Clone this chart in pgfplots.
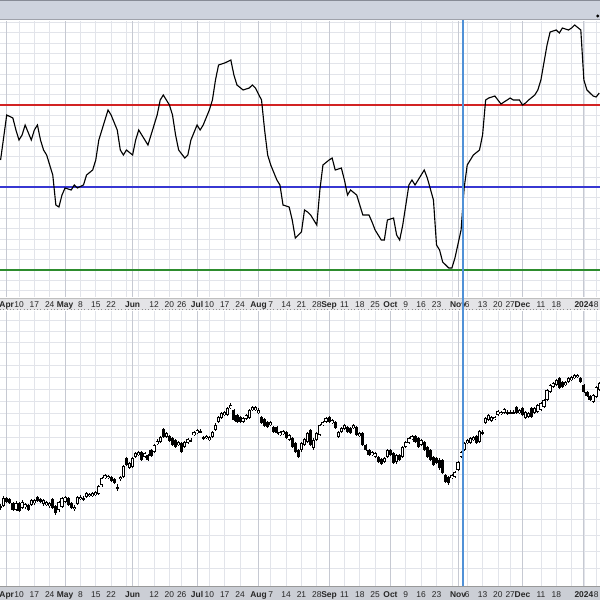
\documentclass[border=0pt]{standalone}
\usepackage{pgfplots}
\usepackage{pgfplotstable}
\pgfplotsset{compat=1.18}
\usepackage{fontspec}
\setmainfont{Liberation Sans}

\definecolor{hdr}{RGB}{206,211,222}
\definecolor{hdrline}{RGB}{135,139,150}
\definecolor{gridc}{RGB}{226,228,234}
\definecolor{gridm}{RGB}{198,201,210}
\definecolor{barbg}{RGB}{228,228,231}
\definecolor{botbar}{RGB}{203,206,213}
\definecolor{vline}{RGB}{80,145,215}

% oscillator, x = trading day (0 = Apr 10 2023), value in panel rows
\pgfplotstableread{
i v
-6 160
-4 115
-2 118
-1 130
0 140
1 135
2 125
4 140
5 130
6 125
7 140
8 150
9 155
11 175
12 205
13 207
14 195
15 188
17 190
18 185
19 188
21 185
22 175
24 170
25 160
26 140
28 120
29 110
30 115
32 130
33 150
34 155
35 150
37 155
38 140
39 130
41 140
42 145
43 135
45 115
46 100
47 95
49 105
50 115
51 135
52 150
54 158
55 155
56 140
58 125
59 130
60 125
62 110
63 100
64 80
65 65
67 63
69 60
70 75
71 85
73 90
75 88
76 85
77 88
79 100
80 130
81 155
82 165
84 180
85 185
86 205
88 207
89 220
90 238
92 232
93 210
94 212
95 215
97 225
98 190
99 165
101 160
102 158
103 170
105 168
106 180
107 195
108 190
110 195
111 205
112 215
114 215
115 222
116 230
118 240
119 240
120 220
122 218
123 235
124 240
125 225
127 185
128 180
129 185
131 175
132 170
133 178
135 200
136 245
137 250
138 262
140 268
141 268
142 258
144 230
145 188
146 165
147 160
148 155
150 150
151 135
152 100
153 98
155 96
156 100
157 104
159 100
160 98
161 100
163 100
164 105
165 103
166 100
168 95
169 90
170 80
172 45
173 32
175 30
176 33
177 28
179 30
180 28
181 25
183 30
184 80
185 90
187 96
188 97
189 93
}\osc

% candles: t = body top, b = body bottom, h = high, l = low (panel rows)
\pgfplotstableread{
i t b h l
-6 506 507 504 510
-5 498 506 496 507
-1 503 510 501 511
1 502 508 500 509
2 504 507 503 509
4 500 505 499 506
5 500 503 499 505
8 500 504 499 506
9 502 505 501 506
10 503 506 502 508
13 502 510 501 512
14 498 507 497 508
15 497 502 496 503
18 507 509 505 511
19 497 504 496 505
20 497 499 495 500
21 498 499 496 501
22 493 497 492 498
23 494 496 493 497
24 493 496 492 497
25 492 495 491 496
26 486 494 485 495
27 478 485 477 487
28 475 478 474 479
29 476 478 475 479
32 487 488 484 491
33 477 479 476 481
34 466 477 465 478
36 463 468 462 469
37 458 467 457 468
38 453 457 452 458
39 452 455 451 456
41 453 457 452 458
44 445 452 444 453
45 441 444 439 445
46 437 442 436 443
48 433 437 432 438
52 442 445 441 446
54 442 447 441 448
55 439 443 438 444
56 440 441 438 442
57 432 435 431 436
58 430 433 429 434
59 431 432 429 433
60 437 438 436 440
61 436 438 435 439
62 437 440 436 441
63 432 437 431 438
64 425 430 423 431
65 417 422 416 423
66 413 418 412 419
67 412 415 411 416
68 408 415 407 416
69 405 408 403 409
73 418 422 417 423
74 415 419 414 420
75 410 418 409 419
76 407 410 406 411
77 407 410 406 411
78 410 413 408 414
82 422 425 421 426
85 432 435 431 436
86 431 434 430 435
88 435 440 434 441
92 443 450 442 452
93 439 445 438 446
94 433 442 432 443
96 440 448 438 450
97 433 440 432 441
98 425 435 424 436
99 422 425 421 426
100 418 422 417 423
102 420 423 419 424
104 432 437 431 438
105 428 432 427 433
106 425 429 424 430
109 425 428 424 429
111 433 436 432 437
115 452 455 451 456
116 453 457 452 458
119 458 462 457 463
120 450 457 449 458
123 455 462 454 464
125 447 457 446 458
126 442 447 441 448
127 438 443 437 444
128 436 439 435 440
131 440 445 439 446
141 475 478 474 479
142 472 477 471 478
143 462 470 461 471
144 452 457 451 458
145 443 450 442 451
146 440 443 439 444
147 438 443 437 444
148 437 440 436 441
150 431 442 430 443
151 432 433 430 435
152 418 423 417 424
153 415 420 414 421
154 417 421 416 422
155 417 419 416 420
156 411 415 410 416
157 412 414 411 415
158 409 413 408 414
159 412 413 410 415
160 412 413 410 414
161 412 413 410 414
163 410 413 409 414
165 412 418 411 419
166 413 417 412 418
168 408 413 407 414
169 405 412 404 413
170 403 410 402 411
171 400 407 399 408
172 390 400 389 401
173 385 392 384 393
174 383 387 382 388
175 380 385 379 386
178 382 385 381 386
179 378 382 377 383
180 377 380 376 381
181 375 378 374 379
182 375 377 374 378
187 395 402 394 403
188 387 397 386 398
189 383 390 382 391
}\up

\pgfplotstableread{
i t b h l
-4 498 502 497 503
-3 499 503 498 504
-2 503 510 502 511
0 503 511 502 512
3 505 510 504 511
6 497 501 496 502
7 499 502 498 503
11 499 508 498 509
12 506 513 505 515
16 498 505 497 506
17 503 508 502 509
30 477 481 476 482
31 479 483 478 484
35 458 465 457 466
40 452 460 451 461
42 455 460 454 461
43 450 456 449 457
47 429 437 428 438
49 436 441 435 442
50 438 445 437 446
51 440 447 439 448
53 443 452 442 453
70 410 420 409 421
71 415 422 414 423
72 417 422 416 423
79 417 423 416 424
80 419 426 418 427
81 422 427 421 428
83 427 432 426 433
84 427 433 426 434
87 432 438 431 439
89 438 447 437 448
90 443 452 442 453
91 450 457 449 458
95 430 445 429 446
101 417 422 416 423
103 422 428 421 429
107 427 432 426 433
108 428 433 427 434
110 427 435 426 436
112 433 445 432 446
113 445 450 444 451
114 450 455 449 456
117 457 462 456 463
118 459 464 458 465
121 450 455 449 456
122 453 463 452 464
124 455 460 454 461
129 436 442 435 443
130 438 447 437 448
132 442 450 441 451
133 447 457 446 458
134 450 460 449 461
135 457 465 456 466
136 458 463 457 464
137 460 468 458 470
138 460 473 459 474
139 475 482 474 483
140 477 483 476 485
149 436 443 435 444
162 407 413 406 414
164 408 415 407 416
167 408 417 407 418
176 378 388 377 389
177 382 387 381 388
183 378 382 377 383
184 385 392 384 393
185 392 396 391 397
186 396 400 395 401
}\dn

\pgfplotsset{
  panel/.style={
    scale only axis, width=15cm,
    xmin=-6.19, xmax=189.25, y dir=reverse,
    axis line style={draw=none}, tick style={draw=none},
    major tick length=0pt,
    grid=major, major grid style={gridc, line width=0.5pt},
    xtick={-4,0,5,10,15,20,25,30,35,37,39,44,49,53,58,62,67,72,78,82,87,92,97,101,106,111,116,121,126,131,136,141,143,146,151,156,160,164,170,175,180,184,188},
    xticklabels={\textbf{Apr},10,17,24,\textbf{May},8,15,22,{},\textbf{Jun},{},12,20,26,\textbf{Jul},10,17,24,\textbf{Aug},7,14,21,28,\textbf{Sep},11,18,25,\textbf{Oct},9,16,23,{},\textbf{Nov},6,13,20,27,\textbf{Dec},11,18,{},\textbf{2024},8},
    xticklabel style={font=\fontsize{6}{7}\selectfont, anchor=base, text=black!85},
    extra x ticks={-4,15,37,58,78,101,121,143,164,184},
    extra x tick labels={},
    extra x tick style={grid=major, major grid style={gridm, line width=0.6pt}},
    yticklabels={},
  },
  wick/.style={draw=none, mark=none,
    error bars/.cd, y dir=both, y explicit, error mark=none,
    error bar style={draw=black, line width=0.5pt}},
  body/.style={draw=none, mark=none,
    error bars/.cd, y dir=both, y explicit, error mark=none,
    error bar style={#1}},
}

\begin{document}
\begin{tikzpicture}
\useasboundingbox (0,0) rectangle (15cm,-15cm);
\begin{scope}[x=0.025cm, y=-0.025cm]
  \fill[hdr] (0,0) rectangle (600,20);
  \fill[hdrline] (0,0) rectangle (600,1.2);
  \draw[hdrline!80, line width=0.6pt] (0,19.6) -- (600,19.6);
  \fill[black] (598,16) circle (1.6);
  \fill[barbg] (0,298) rectangle (600,310);
  \draw[black!25, line width=0.4pt] (0,298) -- (600,298);
  \draw[black!45, line width=0.4pt, dotted] (0,309.5) -- (600,309.5);
  \fill[botbar] (0,586) rectangle (600,600);
  \draw[black!40, line width=0.5pt] (0,586) -- (600,586);
\end{scope}

\begin{axis}[panel, at={(0cm,-7.425cm)}, anchor=south west, height=6.9cm,
  ymin=21, ymax=297,
  ytick={22.52,32.83,...,292},
  xticklabel style={yshift=-7.3pt}]
  \addplot[color={rgb,255:red,210;green,35;blue,35}, line width=0.8pt, forget plot]
    coordinates {(-6.19,105) (189.25,105)};
  \addplot[color={rgb,255:red,55;green,55;blue,210}, line width=0.8pt, forget plot]
    coordinates {(-6.19,187) (189.25,187)};
  \addplot[color={rgb,255:red,45;green,140;blue,45}, line width=0.8pt, forget plot]
    coordinates {(-6.19,270) (189.25,270)};
  \addplot[black, line width=0.8pt] table[x=i, y=v] \osc;
\end{axis}

\begin{axis}[panel, at={(0cm,-14.65cm)}, anchor=south west, height=6.875cm,
  ymin=311, ymax=586,
  ytick={320,331,342,353,365,377,389,401,413,425,437,449,461,474,488,503,519,535,551,568},
  xticklabel style={yshift=-7.9pt}]
  \addplot[wick] table[x=i, y expr={(\thisrow{h}+\thisrow{l})/2},
    y error expr={(\thisrow{l}-\thisrow{h})/2}] \up;
  \addplot[wick] table[x=i, y expr={(\thisrow{h}+\thisrow{l})/2},
    y error expr={(\thisrow{l}-\thisrow{h})/2}] \dn;
  \addplot[body={draw=black, line width=2.2pt}] table[x=i, y expr={(\thisrow{t}+\thisrow{b})/2},
    y error expr={max((\thisrow{b}-\thisrow{t})/2,0.7)}] \up;
  \addplot[body={draw=white, line width=1.0pt}] table[x=i, y expr={(\thisrow{t}+\thisrow{b})/2},
    y error expr={max((\thisrow{b}-\thisrow{t})/2-0.8,0)}] \up;
  \addplot[body={draw=black, line width=2.2pt}] table[x=i, y expr={(\thisrow{t}+\thisrow{b})/2},
    y error expr={max((\thisrow{b}-\thisrow{t})/2,0.7)}] \dn;
\end{axis}

\begin{scope}[x=0.025cm, y=-0.025cm]
  \draw[vline, line width=0.9pt] (463.2,20.5) -- (463.2,586);
\end{scope}
\end{tikzpicture}
\end{document}
